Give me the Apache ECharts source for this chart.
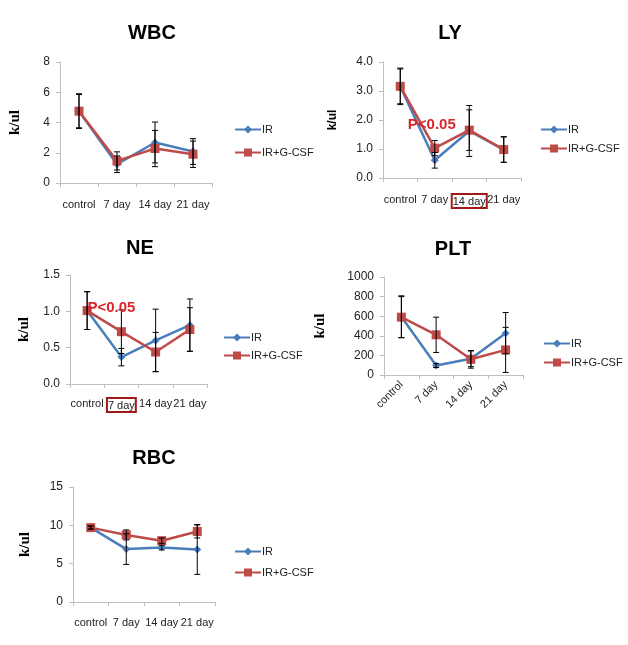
<!DOCTYPE html>
<html><head><meta charset="utf-8">
<script src="https://cdn.jsdelivr.net/npm/echarts@6/dist/echarts.min.js"></script>
<style>html,body{margin:0;padding:0;background:#fff}#c{width:628px;height:645px}</style>
</head><body><div id="c"></div>
<script>
const categories = ['control', '7 day', '14 day', '21 day'];
const seriesNames = ['IR', 'IR+G-CSF'];

const wbcIR = [4.75, 1.24, 2.68, 2.08];
const wbcIRsd = [1.15, 0.55, 1.35, 0.85];
const wbcG = [4.75, 1.46, 2.28, 1.90];
const wbcGsd = [1.1, 0.6, 1.2, 0.87];

const lyIR = [3.16, 0.61, 1.62, 0.98];
const lyIRsd = [0.63, 0.27, 0.88, 0.44];
const lyG = [3.16, 1.03, 1.65, 0.98];
const lyGsd = [0.6, 0.26, 0.7, 0.44];

const neIR = [1.01, 0.37, 0.60, 0.81];
const neIRsd = [0.26, 0.12, 0.43, 0.36];
const neG = [1.01, 0.72, 0.44, 0.75];
const neGsd = [0.26, 0.3, 0.27, 0.3];

const pltIR = [595, 96, 165, 427];
const pltIRsd = [213, 20, 80, 211];
const pltG = [590, 410, 160, 256];
const pltGsd = [210, 180, 90, 230];

const rbcIR = [9.7, 6.9, 7.1, 6.85];
const rbcIRsd = [0.2, 2.0, 0.3, 3.25];
const rbcG = [9.7, 8.75, 8.0, 9.2];
const rbcGsd = [0.2, 0.65, 0.35, 0.85];

const yTicksWBC = {min: 0, max: 8, interval: 2, digits: 0};
const yTicksLY = {min: 0, max: 4, interval: 1, digits: 1};
const yTicksNE = {min: 0, max: 1.5, interval: 0.5, digits: 1};
const yTicksPLT = {min: 0, max: 1000, interval: 200, digits: 0};
const yTicksRBC = {min: 0, max: 15, interval: 5, digits: 0};

const BLUE = '#4a7ebb', RED = '#be4b48', AXIS = '#bfbfbf', TXT = '#222';
const FONT = 'Liberation Sans, Arial, sans-serif';

const panels = [
  {title: 'WBC', tx: 147, ty: 18, grid: {left: 60, top: 62, width: 152, height: 121}, yt: yTicksWBC,
   ir: wbcIR, irsd: wbcIRsd, g: wbcG, gsd: wbcGsd, nameGap: 37, serif: true,
   legend: {left: 229, top: 119, gap: 12}, xMargin: 16},
  {title: 'LY', tx: 445, ty: 18, grid: {left: 383, top: 62, width: 138, height: 116}, yt: yTicksLY,
   ir: lyIR, irsd: lyIRsd, g: lyG, gsd: lyGsd, nameGap: 44, serif: false,
   legend: {left: 535, top: 119, gap: 8}, xMargin: 16, box: '14 day', p: [1, 1.83, -3]},
  {title: 'NE', tx: 135, ty: 233, grid: {left: 70, top: 275, width: 137, height: 109}, yt: yTicksNE,
   ir: neIR, irsd: neIRsd, g: neG, gsd: neGsd, nameGap: 38, serif: true,
   legend: {left: 218, top: 327, gap: 7}, xMargin: 14, box: '7 day', p: [1, 1.05, -10]},
  {title: 'PLT', tx: 448, ty: 234, grid: {left: 384, top: 277, width: 139, height: 98}, yt: yTicksPLT,
   ir: pltIR, irsd: pltIRsd, g: pltG, gsd: pltGsd, nameGap: 56, serif: true,
   legend: {left: 538, top: 333, gap: 8}, xMargin: 8, rotate: 45},
  {title: 'RBC', tx: 149, ty: 443, grid: {left: 73, top: 487, width: 142, height: 115}, yt: yTicksRBC,
   ir: rbcIR, irsd: rbcIRsd, g: rbcG, gsd: rbcGsd, nameGap: 40, serif: true,
   legend: {left: 229, top: 541, gap: 10}, xMargin: 15}
];

const option = {
  animation: false,
  textStyle: {fontFamily: FONT},
  title: [], grid: [], xAxis: [], yAxis: [], legend: [], series: []
};

function errRender(params, api) {
  const x = api.value(0);
  const lo = api.coord([x, api.value(1)]);
  const hi = api.coord([x, api.value(2)]);
  const w = 3;
  const st = {stroke: '#000', lineWidth: 1};
  return {type: 'group', children: [
    {type: 'line', shape: {x1: lo[0], y1: lo[1], x2: hi[0], y2: hi[1]}, style: st},
    {type: 'line', shape: {x1: lo[0] - w, y1: lo[1], x2: lo[0] + w, y2: lo[1]}, style: st},
    {type: 'line', shape: {x1: hi[0] - w, y1: hi[1], x2: hi[0] + w, y2: hi[1]}, style: st}
  ]};
}

panels.forEach((p, i) => {
  option.title.push({text: p.title, left: p.tx, top: p.ty, textAlign: 'center',
    textStyle: {fontSize: 20, fontWeight: 'bold', color: '#000', fontFamily: FONT}});
  option.grid.push(Object.assign({containLabel: false}, p.grid));
  const box = p.box;
  option.xAxis.push({
    type: 'category', gridIndex: i, data: categories, boundaryGap: true,
    axisLine: {show: true, lineStyle: {color: AXIS}},
    axisTick: {show: true, length: 4, inside: false, alignWithLabel: false, interval: 0, lineStyle: {color: AXIS}},
    axisLabel: {
      interval: 0, margin: p.xMargin, rotate: p.rotate || 0, color: TXT, fontSize: 11, fontFamily: FONT,
      formatter: box ? (v => v === box ? '{b|' + v + '}' : v) : undefined,
      rich: box ? {b: {borderColor: '#a01a1a', borderWidth: 2, padding: [2, 1, 1, 1], color: TXT, fontSize: 11, fontFamily: FONT}} : undefined
    },
    splitLine: {show: false}
  });
  option.yAxis.push({
    type: 'value', gridIndex: i, min: p.yt.min, max: p.yt.max, interval: p.yt.interval,
    name: 'k/ul', nameLocation: 'middle', nameGap: p.nameGap, nameRotate: 90,
    nameTextStyle: p.serif
      ? {fontFamily: 'Liberation Serif, Times New Roman, serif', fontWeight: 'bold', fontSize: 15, color: '#000'}
      : {fontFamily: FONT, fontWeight: 'bold', fontSize: 12, color: '#000'},
    axisLine: {show: true, lineStyle: {color: AXIS}},
    axisTick: {show: true, length: 4, lineStyle: {color: AXIS}},
    axisLabel: {margin: 10, color: TXT, fontSize: 12, fontFamily: FONT,
      formatter: v => Number(v).toFixed(p.yt.digits)},
    splitLine: {show: false}
  });
  option.legend.push({
    data: seriesNames, orient: 'vertical', left: p.legend.left, top: p.legend.top,
    itemGap: p.legend.gap, itemWidth: 26, itemHeight: 10,
    textStyle: {fontSize: 11, color: TXT, fontFamily: FONT, padding: [0, 0, 0, -4]},
    selectedMode: false
  });
  const lineSeries = (name, data, color, symbol, size, mp) => {
    const s = {
      type: 'line', name, xAxisIndex: i, yAxisIndex: i, data,
      symbol, symbolSize: size, z: 3,
      lineStyle: {color, width: 2.5}, itemStyle: {color},
    };
    if (mp) s.markPoint = mp;
    return s;
  };
  let mp = null;
  if (p.p) {
    mp = {symbol: 'rect', symbolSize: 1, itemStyle: {color: 'rgba(0,0,0,0)'},
      data: [{coord: [categories[p.p[0]], p.p[1]],
        label: {show: true, position: 'inside', offset: [p.p[2], 0], formatter: 'P<0.05',
          color: '#d9262b', fontWeight: 'bold', fontSize: 15, fontFamily: FONT}}]};
  }
  option.series.push(lineSeries('IR', p.ir, BLUE, 'diamond', 8, null));
  option.series.push(lineSeries('IR+G-CSF', p.g, RED, 'rect', 9, mp));
  [[p.ir, p.irsd], [p.g, p.gsd]].forEach(([m, sd], k) => {
    option.series.push({
      type: 'custom', name: 'err' + k, xAxisIndex: i, yAxisIndex: i, z: 5,
      renderItem: errRender,
      data: categories.map((c, j) => [j, m[j] - sd[j], m[j] + sd[j]]),
      encode: {x: 0, y: [1, 2]}, silent: true
    });
  });
});

const chart = echarts.init(document.getElementById('c'), null, {renderer: 'canvas'});
chart.setOption(option);
</script>
</body></html>
